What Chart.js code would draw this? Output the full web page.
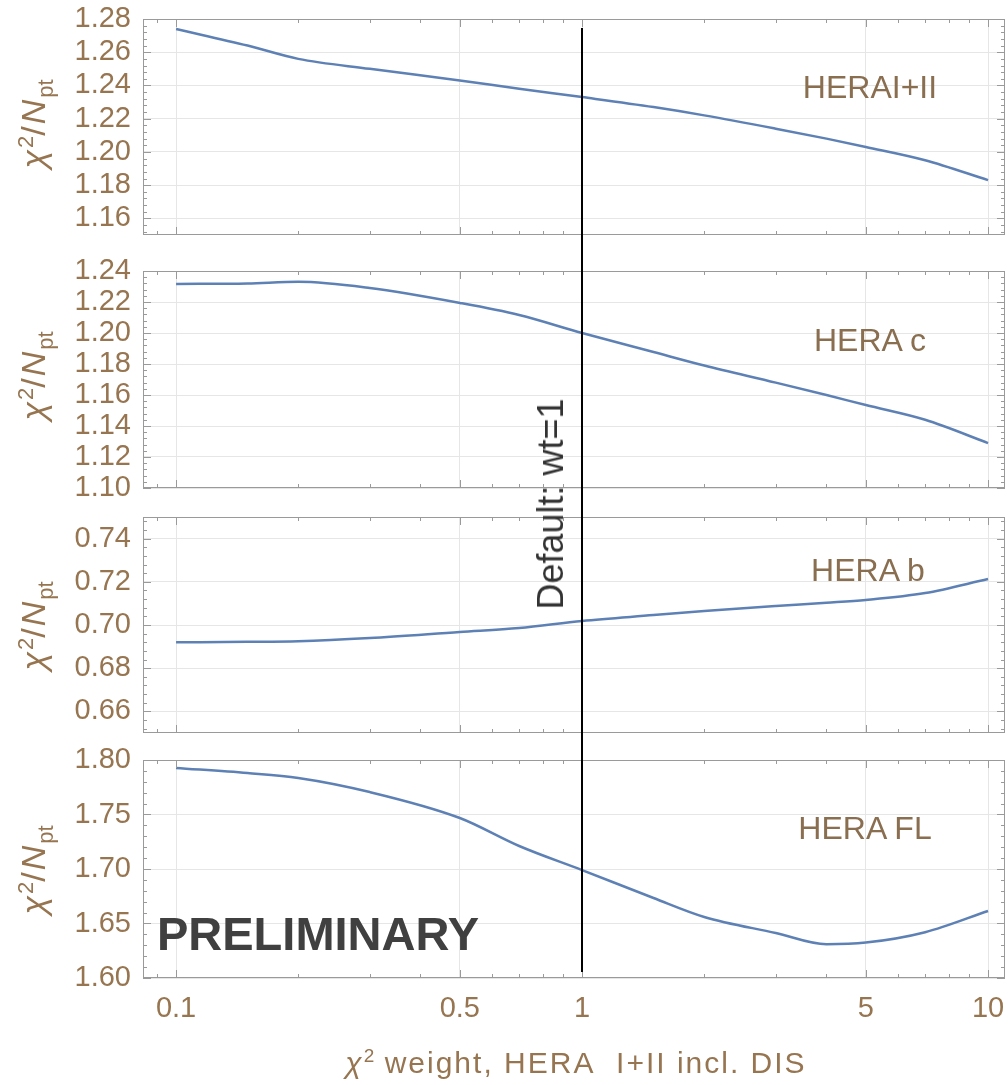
<!DOCTYPE html>
<html>
<head>
<meta charset="utf-8">
<script src="https://cdn.jsdelivr.net/npm/chart.js@4.4.1/dist/chart.umd.min.js"></script>
<style>
  body { margin: 0; background: #fff; }
  #wrap { position: relative; width: 1008px; height: 1085px; overflow: hidden; font-family: "Liberation Sans", Arial, sans-serif; }
  canvas { position: absolute; left: 0; }
  .txt { position: absolute; white-space: nowrap; transform: translate(-50%, -50%); }
  .lbl { color: #8a6e50; font-size: 32px; }
  .ytitle { color: #967550; font-size: 34px; letter-spacing: 2px; transform: translate(-50%, -50%) rotate(-90deg); }
  .ytitle sub, .ytitle sup { font-size: 22px; letter-spacing: 0; }
  .xtitle { color: #967550; font-size: 30px; letter-spacing: 2px; }
  .xtitle sup { font-size: 19px; letter-spacing: 0; }
</style>
</head>
<body>
<div id="wrap">
  <canvas id="c1"></canvas>
  <canvas id="c2"></canvas>
  <canvas id="c3"></canvas>
  <canvas id="c4"></canvas>

  <div class="txt lbl" style="left:870px;top:87px">HERAI+II</div>
  <div class="txt lbl" style="left:870px;top:340px">HERA c</div>
  <div class="txt lbl" style="left:868px;top:570px">HERA b</div>
  <div class="txt lbl" style="left:865px;top:828px">HERA FL</div>

  <div class="txt ytitle" style="left:36px;top:124px"><i>χ</i><sup>2</sup>/<i>N</i><sub>pt</sub></div>
  <div class="txt ytitle" style="left:36px;top:376px"><i>χ</i><sup>2</sup>/<i>N</i><sub>pt</sub></div>
  <div class="txt ytitle" style="left:36px;top:626px"><i>χ</i><sup>2</sup>/<i>N</i><sub>pt</sub></div>
  <div class="txt ytitle" style="left:36px;top:870px"><i>χ</i><sup>2</sup>/<i>N</i><sub>pt</sub></div>

  <div class="txt" style="left:551px;top:504px;font-size:36px;color:#333;transform:translate(-50%,-50%) rotate(-90deg)">Default: wt=1</div>
  <div class="txt" style="left:318px;top:933px;font-size:47px;font-weight:bold;color:#404040">PRELIMINARY</div>
  <div class="txt xtitle" style="left:576px;top:1062px"><i>χ</i><sup>2</sup> weight, HERA&nbsp; I+II incl. DIS</div>
</div>

<script>
// chi2 weight of HERA I+II (log axis)
const weights = [0.1, 0.15, 0.2, 0.3, 0.5, 0.7, 1, 1.5, 2, 3, 4, 5, 7, 10];

const heraI_II = [1.274, 1.264, 1.256, 1.250, 1.243, 1.238, 1.233, 1.227, 1.222, 1.214, 1.208, 1.203, 1.195, 1.183];
const heraC    = [1.2316, 1.232, 1.233, 1.229, 1.2194, 1.2116, 1.200, 1.1877, 1.179, 1.168, 1.160, 1.1535, 1.144, 1.129];
const heraB    = [0.692, 0.6922, 0.6925, 0.694, 0.6968, 0.6986, 0.7019, 0.7046, 0.7065, 0.7088, 0.7103, 0.7116, 0.7148, 0.7213];
const heraFL   = [1.7927, 1.788, 1.7835, 1.7706, 1.7468, 1.7211, 1.699, 1.6734, 1.656, 1.6413, 1.631, 1.6325, 1.642, 1.6615];

const xTicks = [0.1, 0.5, 1, 5, 10];
const xMinor = [0.09, 0.2, 0.3, 0.4, 0.6, 0.7, 0.8, 0.9, 2, 3, 4, 6, 7, 8, 9];
const xRange = [0.0829, 11.01];
const defaultWt = 1;

const yTicks1 = [1.16, 1.18, 1.20, 1.22, 1.24, 1.26, 1.28];
const yTicks2 = [1.10, 1.12, 1.14, 1.16, 1.18, 1.20, 1.22, 1.24];
const yTicks3 = [0.66, 0.68, 0.70, 0.72, 0.74];
const yTicks4 = [1.60, 1.65, 1.70, 1.75, 1.80];

const labelColor = '#967550';
const lineColor = '#5e81b5';
const gridColor = '#e6e6e6';
const frameColor = '#9a9a9a';
const font = "'Liberation Sans', Arial, sans-serif";

// frame with inward ticks, then the default-weight line on top
const framePlugin = {
  id: 'frame',
  afterDatasetsDraw(chart, args, opts) {
    const { ctx, chartArea: a, scales: { x, y } } = chart;
    ctx.save();
    ctx.strokeStyle = frameColor;
    ctx.lineWidth = 1;
    ctx.strokeRect(a.left + 0.5, a.top + 0.5, a.right - a.left - 1, a.bottom - a.top - 1);
    ctx.beginPath();
    const tickX = (v, len) => {
      const px = Math.round(x.getPixelForValue(v)) + 0.5;
      ctx.moveTo(px, a.bottom); ctx.lineTo(px, a.bottom - len);
      ctx.moveTo(px, a.top); ctx.lineTo(px, a.top + len);
    };
    const tickY = (v, len) => {
      const py = Math.round(y.getPixelForValue(v)) + 0.5;
      ctx.moveTo(a.left, py); ctx.lineTo(a.left + len, py);
      ctx.moveTo(a.right, py); ctx.lineTo(a.right - len, py);
    };
    xTicks.forEach(v => tickX(v, 8));
    xMinor.forEach(v => tickX(v, 4));
    const yt = opts.yTicks;
    const step = yt[1] - yt[0];
    for (let v = yt[0] - step; v <= y.max + 1e-9; v += step / 5) {
      if (v < y.min - 1e-9) continue;
      const major = yt.some(t => Math.abs(t - v) < 1e-6);
      tickY(v, major ? 8 : 4);
    }
    ctx.stroke();

    const vx = Math.round(x.getPixelForValue(defaultWt));
    ctx.strokeStyle = '#000';
    ctx.lineWidth = 2;
    ctx.beginPath();
    ctx.moveTo(vx, a.top + opts.lineTop);
    ctx.lineTo(vx, a.bottom + opts.lineBottom);
    ctx.stroke();
    ctx.restore();
  }
};

const pad = 32;
const panels = [
  { id: 'c1', data: heraI_II, yTicks: yTicks1, min: 1.15, max: 1.28, top: 19, bottom: 235, lineTop: 9, lineBottom: pad },
  { id: 'c2', data: heraC,    yTicks: yTicks2, min: 1.10, max: 1.24, top: 271, bottom: 488, lineTop: -pad, lineBottom: pad },
  { id: 'c3', data: heraB,    yTicks: yTicks3, min: 0.65, max: 0.75, top: 517, bottom: 733, lineTop: -pad, lineBottom: pad },
  { id: 'c4', data: heraFL,   yTicks: yTicks4, min: 1.60, max: 1.80, top: 760, bottom: 978, lineTop: -pad, lineBottom: -6 }
];

panels.forEach((p, i) => {
  const last = i === panels.length - 1;
  const padBottom = last ? 0 : pad;
  const xHeight = last ? 1085 - p.bottom : 0;
  const canvas = document.getElementById(p.id);
  canvas.width = 1020;
  canvas.height = pad + (p.bottom - p.top) + padBottom + xHeight;
  canvas.style.top = (p.top - pad) + 'px';

  new Chart(canvas, {
    type: 'line',
    data: {
      datasets: [{
        data: weights.map((w, k) => ({ x: w, y: p.data[k] })),
        borderColor: lineColor,
        borderWidth: 2.5,
        pointRadius: 0,
        cubicInterpolationMode: 'monotone',
        fill: false
      }]
    },
    options: {
      responsive: false,
      animation: false,
      devicePixelRatio: 1,
      layout: { padding: { top: pad, bottom: padBottom, left: 0, right: 15 } },
      plugins: {
        legend: { display: false },
        tooltip: { enabled: false },
        frame: { yTicks: p.yTicks, lineTop: p.lineTop, lineBottom: p.lineBottom }
      },
      scales: {
        x: {
          type: 'logarithmic',
          min: xRange[0],
          max: xRange[1],
          afterBuildTicks: s => { s.ticks = xTicks.map(v => ({ value: v })); },
          afterFit: s => { s.height = xHeight; },
          grid: { color: gridColor, drawTicks: false },
          border: { display: false },
          ticks: {
            display: last,
            color: labelColor,
            font: { family: font, size: 29 },
            padding: 14,
            autoSkip: false,
            maxRotation: 0,
            callback: v => String(v)
          }
        },
        y: {
          min: p.min,
          max: p.max,
          afterBuildTicks: s => { s.ticks = p.yTicks.map(v => ({ value: v })); },
          afterFit: s => { s.width = 143; },
          grid: { color: gridColor, drawTicks: false },
          border: { display: false },
          ticks: {
            color: labelColor,
            font: { family: font, size: 29 },
            padding: 12,
            autoSkip: false,
            callback: v => v.toFixed(2)
          }
        }
      }
    },
    plugins: [framePlugin]
  });
});
</script>
</body>
</html>
